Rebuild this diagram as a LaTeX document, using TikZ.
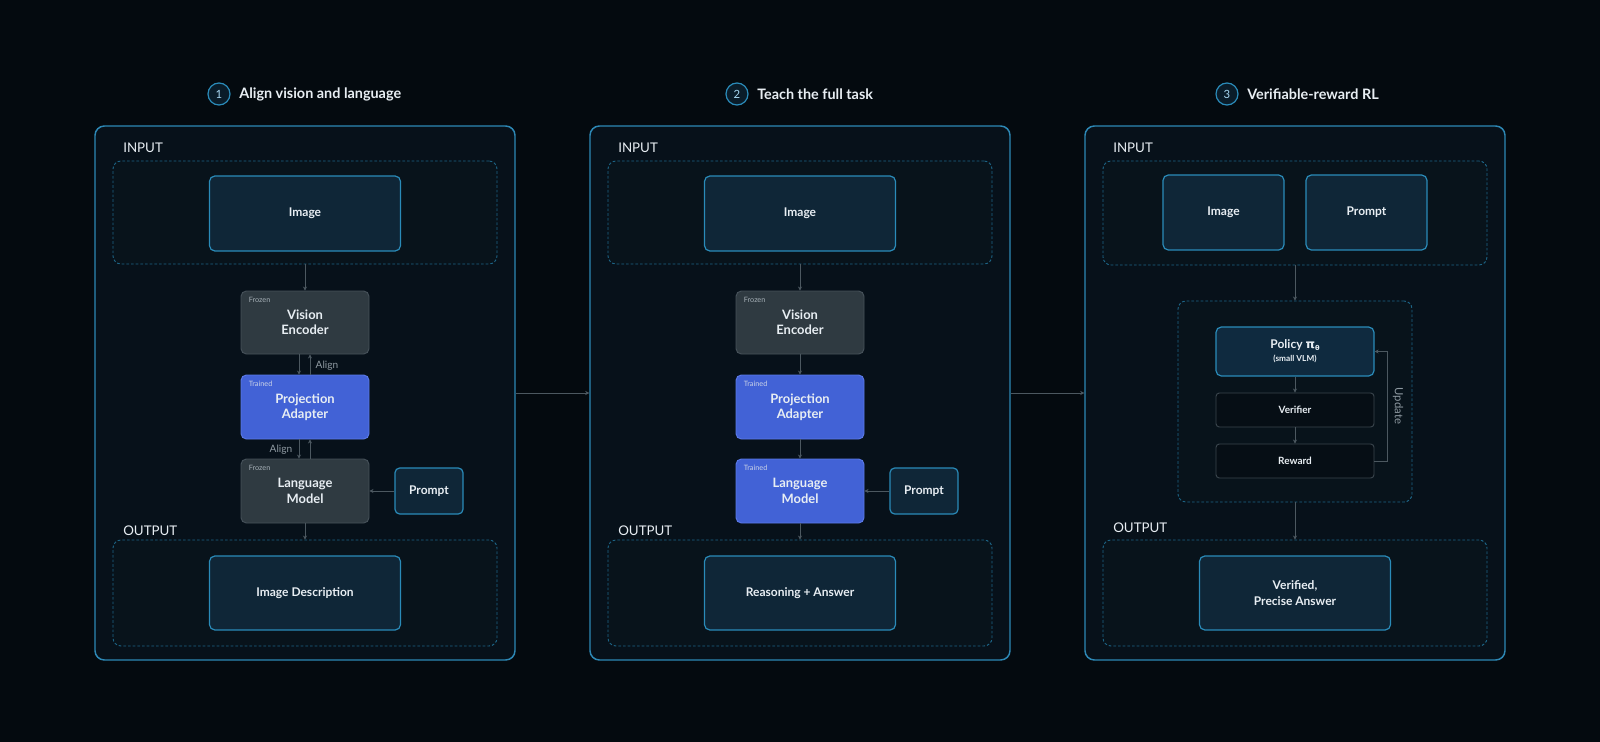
\documentclass[tikz,border=0pt]{standalone}
\usepackage{fontspec}
\setmainfont{Lato}
\newfontfamily\grkfont{DejaVu Sans}
\usetikzlibrary{arrows.meta,calc}
\definecolor{bgcol}{HTML}{040A0F}
\definecolor{panelfill}{HTML}{07111A}
\definecolor{panelborder}{HTML}{2D88B5}
\definecolor{zonefill}{HTML}{08131B}
\definecolor{zoneborder}{HTML}{1D6587}
\definecolor{iofill}{HTML}{0F2637}
\definecolor{ioborder}{HTML}{2A8BB9}
\definecolor{frozenfill}{HTML}{2F3A41}
\definecolor{frozenborder}{HTML}{46525A}
\definecolor{trainedfill}{HTML}{4262D6}
\definecolor{trainedborder}{HTML}{5B7AE8}
\definecolor{plainfill}{HTML}{060E15}
\definecolor{plainborder}{HTML}{3A454D}
\definecolor{conncol}{HTML}{4C5860}
\definecolor{txt}{HTML}{E8EEF3}
\definecolor{tagcol}{HTML}{A5AFB6}
\definecolor{notecol}{HTML}{8E99A1}
\definecolor{numfill}{HTML}{0A1C29}
\definecolor{numtext}{HTML}{A8D8F2}
\definecolor{policyfill}{HTML}{0F2A3F}
\newcommand{\PX}[1]{#1*0.75pt}
\begin{document}
\begin{tikzpicture}[x=0.75pt,y=-0.75pt,
  panel/.style={draw=panelborder,line width=1.1pt,fill=panelfill,rounded corners=7pt,inner sep=0pt},
  zone/.style={draw=zoneborder,dash pattern=on 2pt off 1.5pt,line width=0.7pt,fill=zonefill,rounded corners=6pt,inner sep=0pt},
  basebox/.style={rounded corners=4pt,inner sep=0pt,align=center,text=txt},
  iobox/.style={basebox,draw=ioborder,line width=0.9pt,fill=iofill,font=\bfseries\fontsize{9}{11.5}\selectfont},
  frozenbox/.style={basebox,draw=frozenborder,line width=0.7pt,fill=frozenfill,font=\bfseries\fontsize{9.7}{11.5}\selectfont},
  trainedbox/.style={basebox,draw=trainedborder,line width=0.7pt,fill=trainedfill,font=\bfseries\fontsize{9.7}{11.5}\selectfont},
  plainbox/.style={basebox,rounded corners=2.5pt,draw=plainborder,line width=0.7pt,fill=plainfill,font=\bfseries\fontsize{7.5}{9}\selectfont},
  policybox/.style={basebox,draw=ioborder,line width=0.9pt,fill=policyfill,font=\bfseries\fontsize{9}{11}\selectfont},
  tag/.style={anchor=north west,inner sep=0pt,text=tagcol,font=\fontsize{5.5}{6}\selectfont},
  seclabel/.style={anchor=west,inner sep=0pt,text=txt,font=\fontsize{10}{12}\selectfont},
  titletxt/.style={anchor=west,inner sep=0pt,text=txt,font=\bfseries\fontsize{10.8}{13}\selectfont},
  numcirc/.style={circle,draw=ioborder,line width=0.9pt,fill=numfill,minimum size=\PX{22},inner sep=0pt,text=numtext,font=\fontsize{8.5}{9}\selectfont},
  note/.style={inner sep=0pt,text=notecol,font=\fontsize{7.6}{9}\selectfont},
  conn/.style={draw=conncol,line width=0.6pt,-{Stealth[length=3pt,width=3pt]}},
]
\fill[bgcol] (0,0) rectangle (1600,742);
\useasboundingbox (0,0) rectangle (1600,742);

% ---------- titles ----------
\node[numcirc] (c1) at (219,94) {1};
\node[titletxt] (t1) at (239,94) {Align vision and language};
\node[numcirc] (c2) at (737,94) {2};
\node[titletxt] (t2) at (757,94) {Teach the full task};
\node[numcirc] (c3) at (1227,94) {3};
\node[titletxt] (t3) at (1247,94) {Verifiable-reward RL};

% ---------- panels ----------
\node[panel,minimum width=\PX{420},minimum height=\PX{534}] (p1) at (305,393) {};
\node[panel,minimum width=\PX{420},minimum height=\PX{534}] (p2) at (800,393) {};
\node[panel,minimum width=\PX{420},minimum height=\PX{534}] (p3) at (1295,393) {};
\draw[conn] (p1.east) -- (p2.west);
\draw[conn] (p2.east) -- (p3.west);

% ================= PANEL 1 =================
\node[seclabel] (in1) at (123,148) {INPUT};
\node[zone,minimum width=\PX{384},minimum height=\PX{103}] (zi1) at (305,212.5) {};
\node[iobox,minimum width=\PX{191},minimum height=\PX{75}] (im1) at (305,213.5) {Image};
\node[frozenbox,minimum width=\PX{128},minimum height=\PX{63}] (ve1) at (305,322.5) {Vision\\Encoder};
\node[tag] (ve1t) at ($(ve1.north west)+(8,6)$) {Frozen};
\node[trainedbox,minimum width=\PX{128},minimum height=\PX{64}] (pa1) at (305,407) {Projection\\Adapter};
\node[tag,text=tagcol!60!trainedfill!40!white] (pa1t) at ($(pa1.north west)+(8,6)$) {Trained};
\node[frozenbox,minimum width=\PX{128},minimum height=\PX{64}] (lm1) at (305,491) {Language\\Model};
\node[tag] (lm1t) at ($(lm1.north west)+(8,6)$) {Frozen};
\node[iobox,minimum width=\PX{68},minimum height=\PX{46},rounded corners=3.5pt] (pr1) at (429,491) {Prompt};
\node[seclabel] (out1) at (123,531) {OUTPUT};
\node[zone,minimum width=\PX{384},minimum height=\PX{106}] (zo1) at (305,593) {};
\node[iobox,minimum width=\PX{191},minimum height=\PX{74}] (od1) at (305,593) {Image Description};

\draw[conn] (zi1.south) -- (ve1.north);
\draw[conn] ([xshift=\PX{-6}]ve1.south) -- ([xshift=\PX{-6}]pa1.north);
\draw[conn] ([xshift=\PX{5}]pa1.north) -- ([xshift=\PX{5}]ve1.south);
\node[note] (al1) at (327,366) {Align};
\draw[conn] ([xshift=\PX{-6}]pa1.south) -- ([xshift=\PX{-6}]lm1.north);
\draw[conn] ([xshift=\PX{5}]lm1.north) -- ([xshift=\PX{5}]pa1.south);
\node[note] (al2) at (281,450) {Align};
\draw[conn] (pr1.west) -- (lm1.east);
\draw[conn] (lm1.south) -- (zo1.north);

% ================= PANEL 2 =================
\node[seclabel] (in2) at (618,148) {INPUT};
\node[zone,minimum width=\PX{384},minimum height=\PX{103}] (zi2) at (800,212.5) {};
\node[iobox,minimum width=\PX{191},minimum height=\PX{75}] (im2) at (800,213.5) {Image};
\node[frozenbox,minimum width=\PX{128},minimum height=\PX{63}] (ve2) at (800,322.5) {Vision\\Encoder};
\node[tag] (ve2t) at ($(ve2.north west)+(8,6)$) {Frozen};
\node[trainedbox,minimum width=\PX{128},minimum height=\PX{64}] (pa2) at (800,407) {Projection\\Adapter};
\node[tag,text=tagcol!60!trainedfill!40!white] (pa2t) at ($(pa2.north west)+(8,6)$) {Trained};
\node[trainedbox,minimum width=\PX{128},minimum height=\PX{64}] (lm2) at (800,491) {Language\\Model};
\node[tag,text=tagcol!60!trainedfill!40!white] (lm2t) at ($(lm2.north west)+(8,6)$) {Trained};
\node[iobox,minimum width=\PX{68},minimum height=\PX{46},rounded corners=3.5pt] (pr2) at (924,491) {Prompt};
\node[seclabel] (out2) at (618,531) {OUTPUT};
\node[zone,minimum width=\PX{384},minimum height=\PX{106}] (zo2) at (800,593) {};
\node[iobox,minimum width=\PX{191},minimum height=\PX{74}] (od2) at (800,593) {Reasoning + Answer};

\draw[conn] (zi2.south) -- (ve2.north);
\draw[conn] (ve2.south) -- (pa2.north);
\draw[conn] (pa2.south) -- (lm2.north);
\draw[conn] (pr2.west) -- (lm2.east);
\draw[conn] (lm2.south) -- (zo2.north);

% ================= PANEL 3 =================
\node[seclabel] (in3) at (1113,148) {INPUT};
\node[zone,minimum width=\PX{384},minimum height=\PX{104}] (zi3) at (1295,213) {};
\node[iobox,minimum width=\PX{121},minimum height=\PX{75}] (im3) at (1223.5,212.5) {Image};
\node[iobox,minimum width=\PX{121},minimum height=\PX{75}] (pp3) at (1366.5,212.5) {Prompt};
\node[zone,minimum width=\PX{234},minimum height=\PX{201}] (zl3) at (1295,401.5) {};
\node[policybox,minimum width=\PX{158},minimum height=\PX{49}] (po3) at (1295,351.5) {Policy {\grkfont\bfseries π}\raisebox{-1.2pt}{\grkfont\bfseries\fontsize{5}{6}\selectfont θ}\\[-1pt]{\fontsize{6.2}{7}\selectfont (small VLM)}};
\node[plainbox,minimum width=\PX{158},minimum height=\PX{34}] (vf3) at (1295,410) {Verifier};
\node[plainbox,minimum width=\PX{158},minimum height=\PX{34}] (rw3) at (1295,461) {Reward};
\coordinate (u3b) at (1387,461);
\coordinate (u3t) at (1387,351.5);
\node[note,rotate=-90,font=\fontsize{8.5}{10}\selectfont] (up3) at (1398,406) {Update};
\node[seclabel] (out3) at (1113,528) {OUTPUT};
\node[zone,minimum width=\PX{384},minimum height=\PX{106}] (zo3) at (1295,593) {};
\node[iobox,minimum width=\PX{191},minimum height=\PX{74}] (od3) at (1295,593) {Verified,\\Precise Answer};

\draw[conn] (zi3.south) -- (zl3.north);
\draw[conn] (po3.south) -- (vf3.north);
\draw[conn] (vf3.south) -- (rw3.north);
\draw[conn] (rw3.east) -- (u3b) -- (u3t) -- (po3.east);
\draw[conn] (zl3.south) -- (zo3.north);
\end{tikzpicture}
\end{document}
